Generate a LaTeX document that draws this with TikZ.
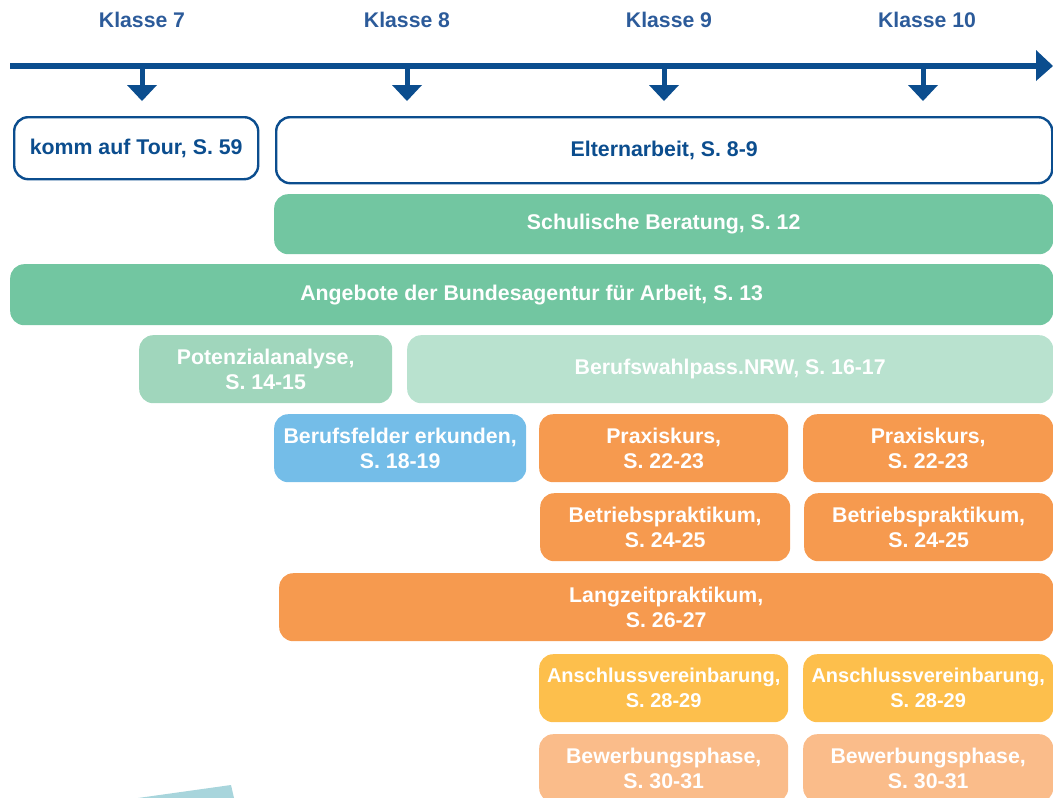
\documentclass[tikz,border=0pt]{standalone}
\usepackage{fontspec}
\setmainfont{Liberation Sans}
\definecolor{dblue}{HTML}{0B4D8E}
\definecolor{lblue}{HTML}{2C5B9A}
\definecolor{cgreen}{HTML}{72C6A1}
\definecolor{cgreenb}{HTML}{A0D6BC}
\definecolor{cgreenc}{HTML}{B9E2CF}
\definecolor{cblue}{HTML}{74BDE8}
\definecolor{corange}{HTML}{F69A4F}
\definecolor{cyellow}{HTML}{FDBF4C}
\definecolor{clorange}{HTML}{FABC8A}
\definecolor{cteal}{HTML}{A8D5DC}
\tikzset{
  boxbase/.style={anchor=north west, rounded corners=14pt, inner sep=0pt, align=center,
    font=\bfseries\fontsize{21.3}{25}\selectfont},
  fbox/.style={boxbase, fill=#1, text=white},
  obox/.style={boxbase, draw=dblue, line width=2.4pt, fill=white, text=dblue},
  narrowtext/.style={font=\bfseries\fontsize{20}{25}\selectfont},
  klabel/.style={font=\bfseries\fontsize{21.2}{24}\selectfont, text=lblue},
}
\newcommand{\bx}[7]{% name, style, x1, y1, x2, y2, text
  \pgfmathsetmacro{\bw}{#5-#3}\pgfmathsetmacro{\bh}{#6-#4}%
  \node[#2, minimum width=\bw pt, minimum height=\bh pt] (#1) at (#3,#4) {#7};}
\begin{document}
\begin{tikzpicture}[x=1pt,y=-1pt]
\useasboundingbox (0,0) rectangle (1053,798);
% teal fragment
\fill[cteal] (138,798) -- (231,785) -- (234,798) -- cycle;
% timeline
\coordinate (tls) at (10,66);
\coordinate (tle) at (1037,66);
\coordinate (tlt) at (1053,66);
\draw[dblue, line width=5.5pt] (tls) -- (tle);
\fill[dblue] (1036,50) -- (tlt) -- (1036,81) -- cycle;
\foreach \n/\x/\lx/\lab in {a/142/142/Klasse 7, b/407/407/Klasse 8, c/664/669/Klasse 9, d/923/927/Klasse 10}{
  \node[klabel] (k\n) at (\lx,20) {\lab};
  \coordinate (s\n) at (\x,66);
  \coordinate (e\n) at (\x,86);
  \draw[dblue, line width=5pt] (s\n) -- (e\n);
  \fill[dblue] (\x-15,85) -- (\x+15,85) -- (\x,101) -- cycle;
}
% boxes
\bx{tour}{obox}{13}{116}{257}{178}{komm auf Tour, S. 59}
\bx{eltern}{obox}{275}{116}{1051}{182}{Elternarbeit, S. 8-9}
\bx{schul}{fbox=cgreen}{274}{194}{1053}{254}{Schulische Beratung, S. 12}
\bx{ang}{fbox=cgreen}{10}{264}{1053}{325}{Angebote der Bundesagentur für Arbeit, S. 13}
\bx{pot}{fbox=cgreenb}{139}{335}{392}{403}{Potenzialanalyse,\\S. 14-15}
\bx{pass}{fbox=cgreenc}{407}{335}{1053}{403}{Berufswahlpass.NRW, S. 16-17}
\bx{feld}{fbox=cblue}{274}{414}{526}{482}{Berufsfelder erkunden,\\S. 18-19}
\bx{prax1}{fbox=corange}{539}{414}{788}{482}{Praxiskurs,\\S. 22-23}
\bx{prax2}{fbox=corange}{803}{414}{1053}{482}{Praxiskurs,\\S. 22-23}
\bx{betr1}{fbox=corange}{540}{493}{790}{561}{Betriebspraktikum,\\S. 24-25}
\bx{betr2}{fbox=corange}{804}{493}{1053}{561}{Betriebspraktikum,\\S. 24-25}
\bx{lang}{fbox=corange}{279}{573}{1053}{641}{Langzeitpraktikum,\\S. 26-27}
\bx{ansc1}{fbox=cyellow, narrowtext}{539}{654}{788}{722}{Anschlussvereinbarung,\\S. 28-29}
\bx{ansc2}{fbox=cyellow, narrowtext}{803}{654}{1053}{722}{Anschlussvereinbarung,\\S. 28-29}
\bx{bew1}{fbox=clorange}{539}{734}{788}{802}{Bewerbungsphase,\\S. 30-31}
\bx{bew2}{fbox=clorange}{803}{734}{1053}{802}{Bewerbungsphase,\\S. 30-31}
\end{tikzpicture}
\end{document}
